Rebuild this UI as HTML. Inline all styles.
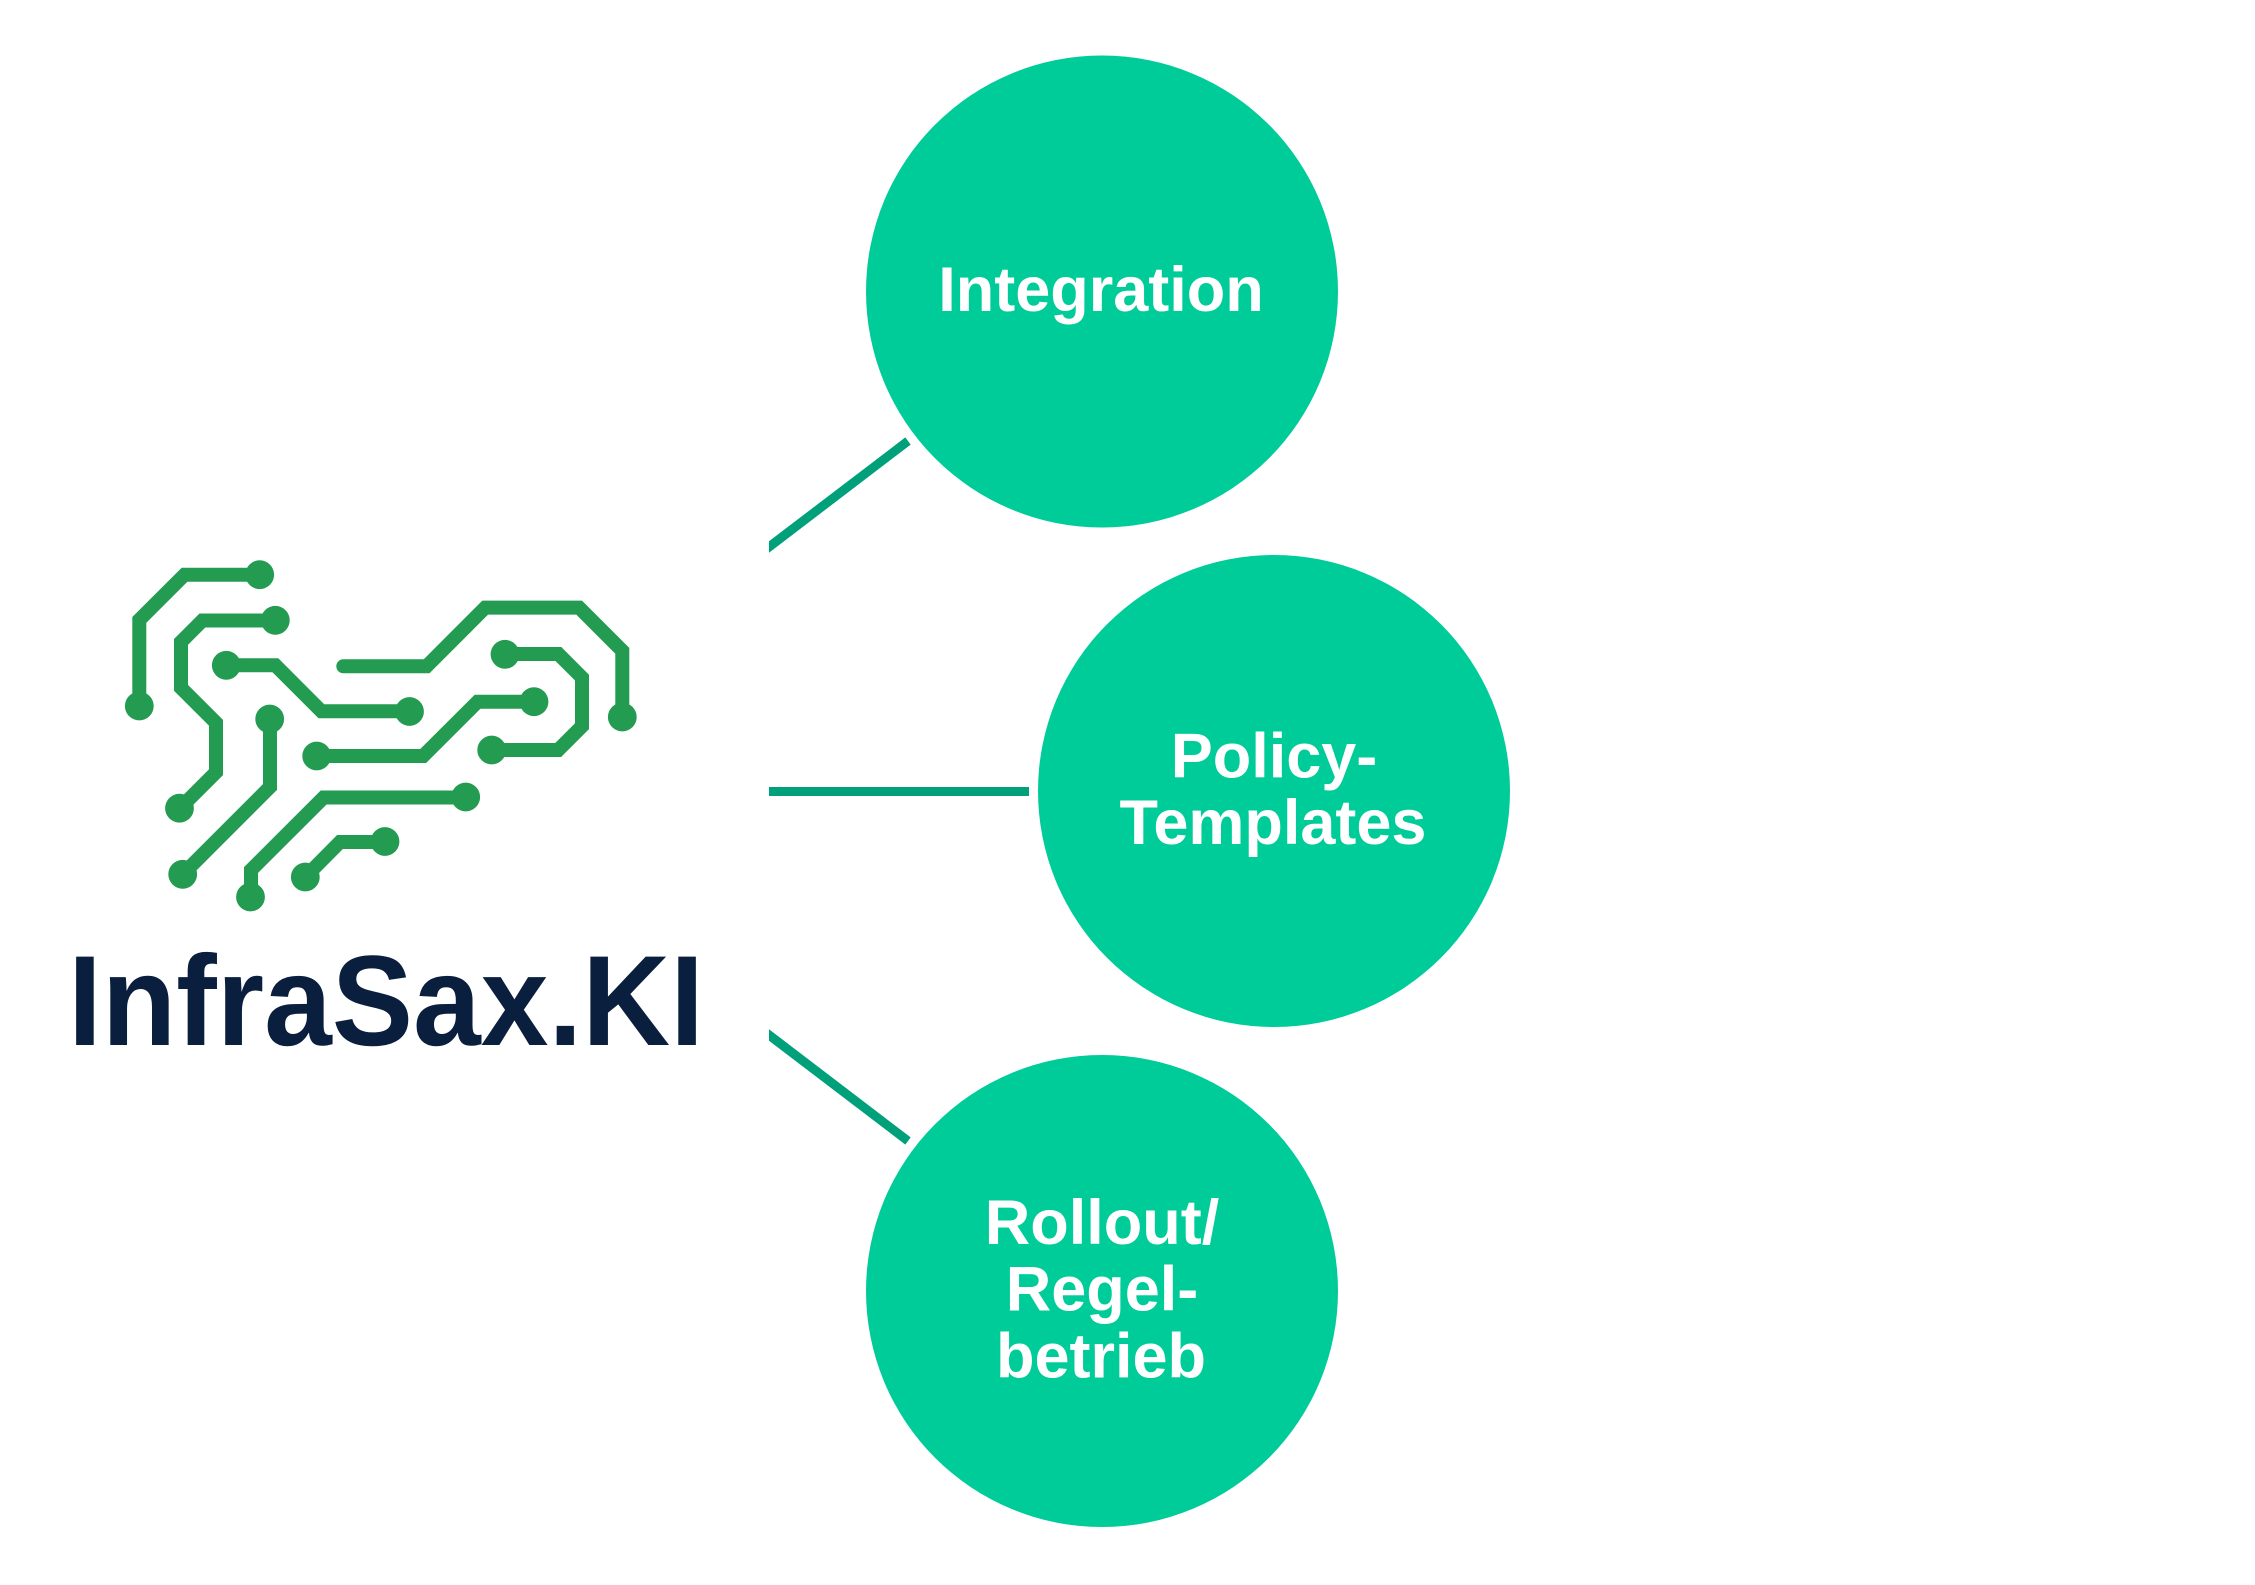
<!DOCTYPE html>
<html>
<head>
<meta charset="utf-8">
<style>
  html, body { margin: 0; padding: 0; background: #ffffff; }
  body { width: 2255px; height: 1585px; overflow: hidden; }
  svg { display: block; }
</style>
</head>
<body>
<svg width="2255" height="1585" viewBox="0 0 2255 1585" xmlns="http://www.w3.org/2000/svg">
  <rect x="0" y="0" width="2255" height="1585" fill="#ffffff"/>

  <!-- Connectors -->
  <polygon points="769,541.3 905.3,437.4 910.7,444.6 769,552.7" fill="#00a07a"/>
  <rect x="769" y="787" width="260" height="9" fill="#00a07a"/>
  <polygon points="769,1029.3 910.7,1137.4 905.3,1144.6 769,1040.7" fill="#00a07a"/>

  <!-- Circles -->
  <circle cx="1102" cy="291.5" r="236" fill="#00cc99"/>
  <circle cx="1274" cy="791" r="236" fill="#00cc99"/>
  <circle cx="1102" cy="1291" r="236" fill="#00cc99"/>

  <!-- Circle labels -->
  <g font-family="'Liberation Sans', Arial, sans-serif" font-weight="bold" font-size="63" fill="#ffffff" text-anchor="middle">
    <text x="1101" y="311">Integration</text>
    <text x="1274" y="777.6">Policy-</text>
    <text x="1273" y="844">Templates</text>
    <text x="1102" y="1244">Rollout/</text>
    <text x="1102" y="1310.5">Regel-</text>
    <text x="1101" y="1377.5">betrieb</text>
  </g>

  <!-- Circuit logo -->
  <g fill="none" stroke="#239b50" stroke-width="14" stroke-linejoin="miter" stroke-linecap="butt">
    <polyline points="259.7,574.7 184.6,574.7 139.3,619.9 139.3,706"/>
    <polyline points="275.3,620.5 202.4,620.5 181,641.9 181,687.8 216,722.8 216,772.2 179.5,808.7"/>
    <polyline points="226.3,665.3 275.4,665.3 321.4,711.3 409.5,711.3"/>
    <polyline points="343.3,666.3 426.6,666.3 485.2,607.6 579.1,607.6 622.3,650.8 622.3,717" stroke-linecap="round"/>
    <polyline points="270,719 270,787 182.7,874.3"/>
    <polyline points="316.7,756 423.2,756 477.6,701.7 534,701.7"/>
    <polyline points="465.7,797.5 323.6,797.5 251,870 251,897"/>
    <polyline points="505,654 558.4,654 582,677.6 582,726.2 558.2,750 491.7,750"/>
    <polyline points="305.3,877 340,842 385,842"/>
  </g>
  <g fill="#239b50">
    <circle cx="259.7" cy="574.7" r="14.4"/>
    <circle cx="139.3" cy="706" r="14.4"/>
    <circle cx="275.3" cy="620.3" r="14.4"/>
    <circle cx="179.5" cy="808.2" r="14.4"/>
    <circle cx="226.3" cy="665.3" r="14.4"/>
    <circle cx="409.5" cy="711.5" r="14.4"/>
    <circle cx="622.3" cy="717" r="14.4"/>
    <circle cx="269.7" cy="719" r="14.4"/>
    <circle cx="182.7" cy="874.3" r="14.4"/>
    <circle cx="316.7" cy="756" r="14.4"/>
    <circle cx="534" cy="701.7" r="14.4"/>
    <circle cx="465.7" cy="797" r="14.4"/>
    <circle cx="250.5" cy="897" r="14.4"/>
    <circle cx="505" cy="654.3" r="14.4"/>
    <circle cx="491.7" cy="750" r="14.4"/>
    <circle cx="305.3" cy="877" r="14.4"/>
    <circle cx="385" cy="841.5" r="14.4"/>
  </g>

  <!-- Wordmark -->
  <text x="68" y="1045" font-family="'Liberation Sans', Arial, sans-serif" font-weight="bold" font-size="128.5" fill="#0a1e3e" textLength="636" lengthAdjust="spacingAndGlyphs">InfraSax.KI</text>
</svg>
</body>
</html>
